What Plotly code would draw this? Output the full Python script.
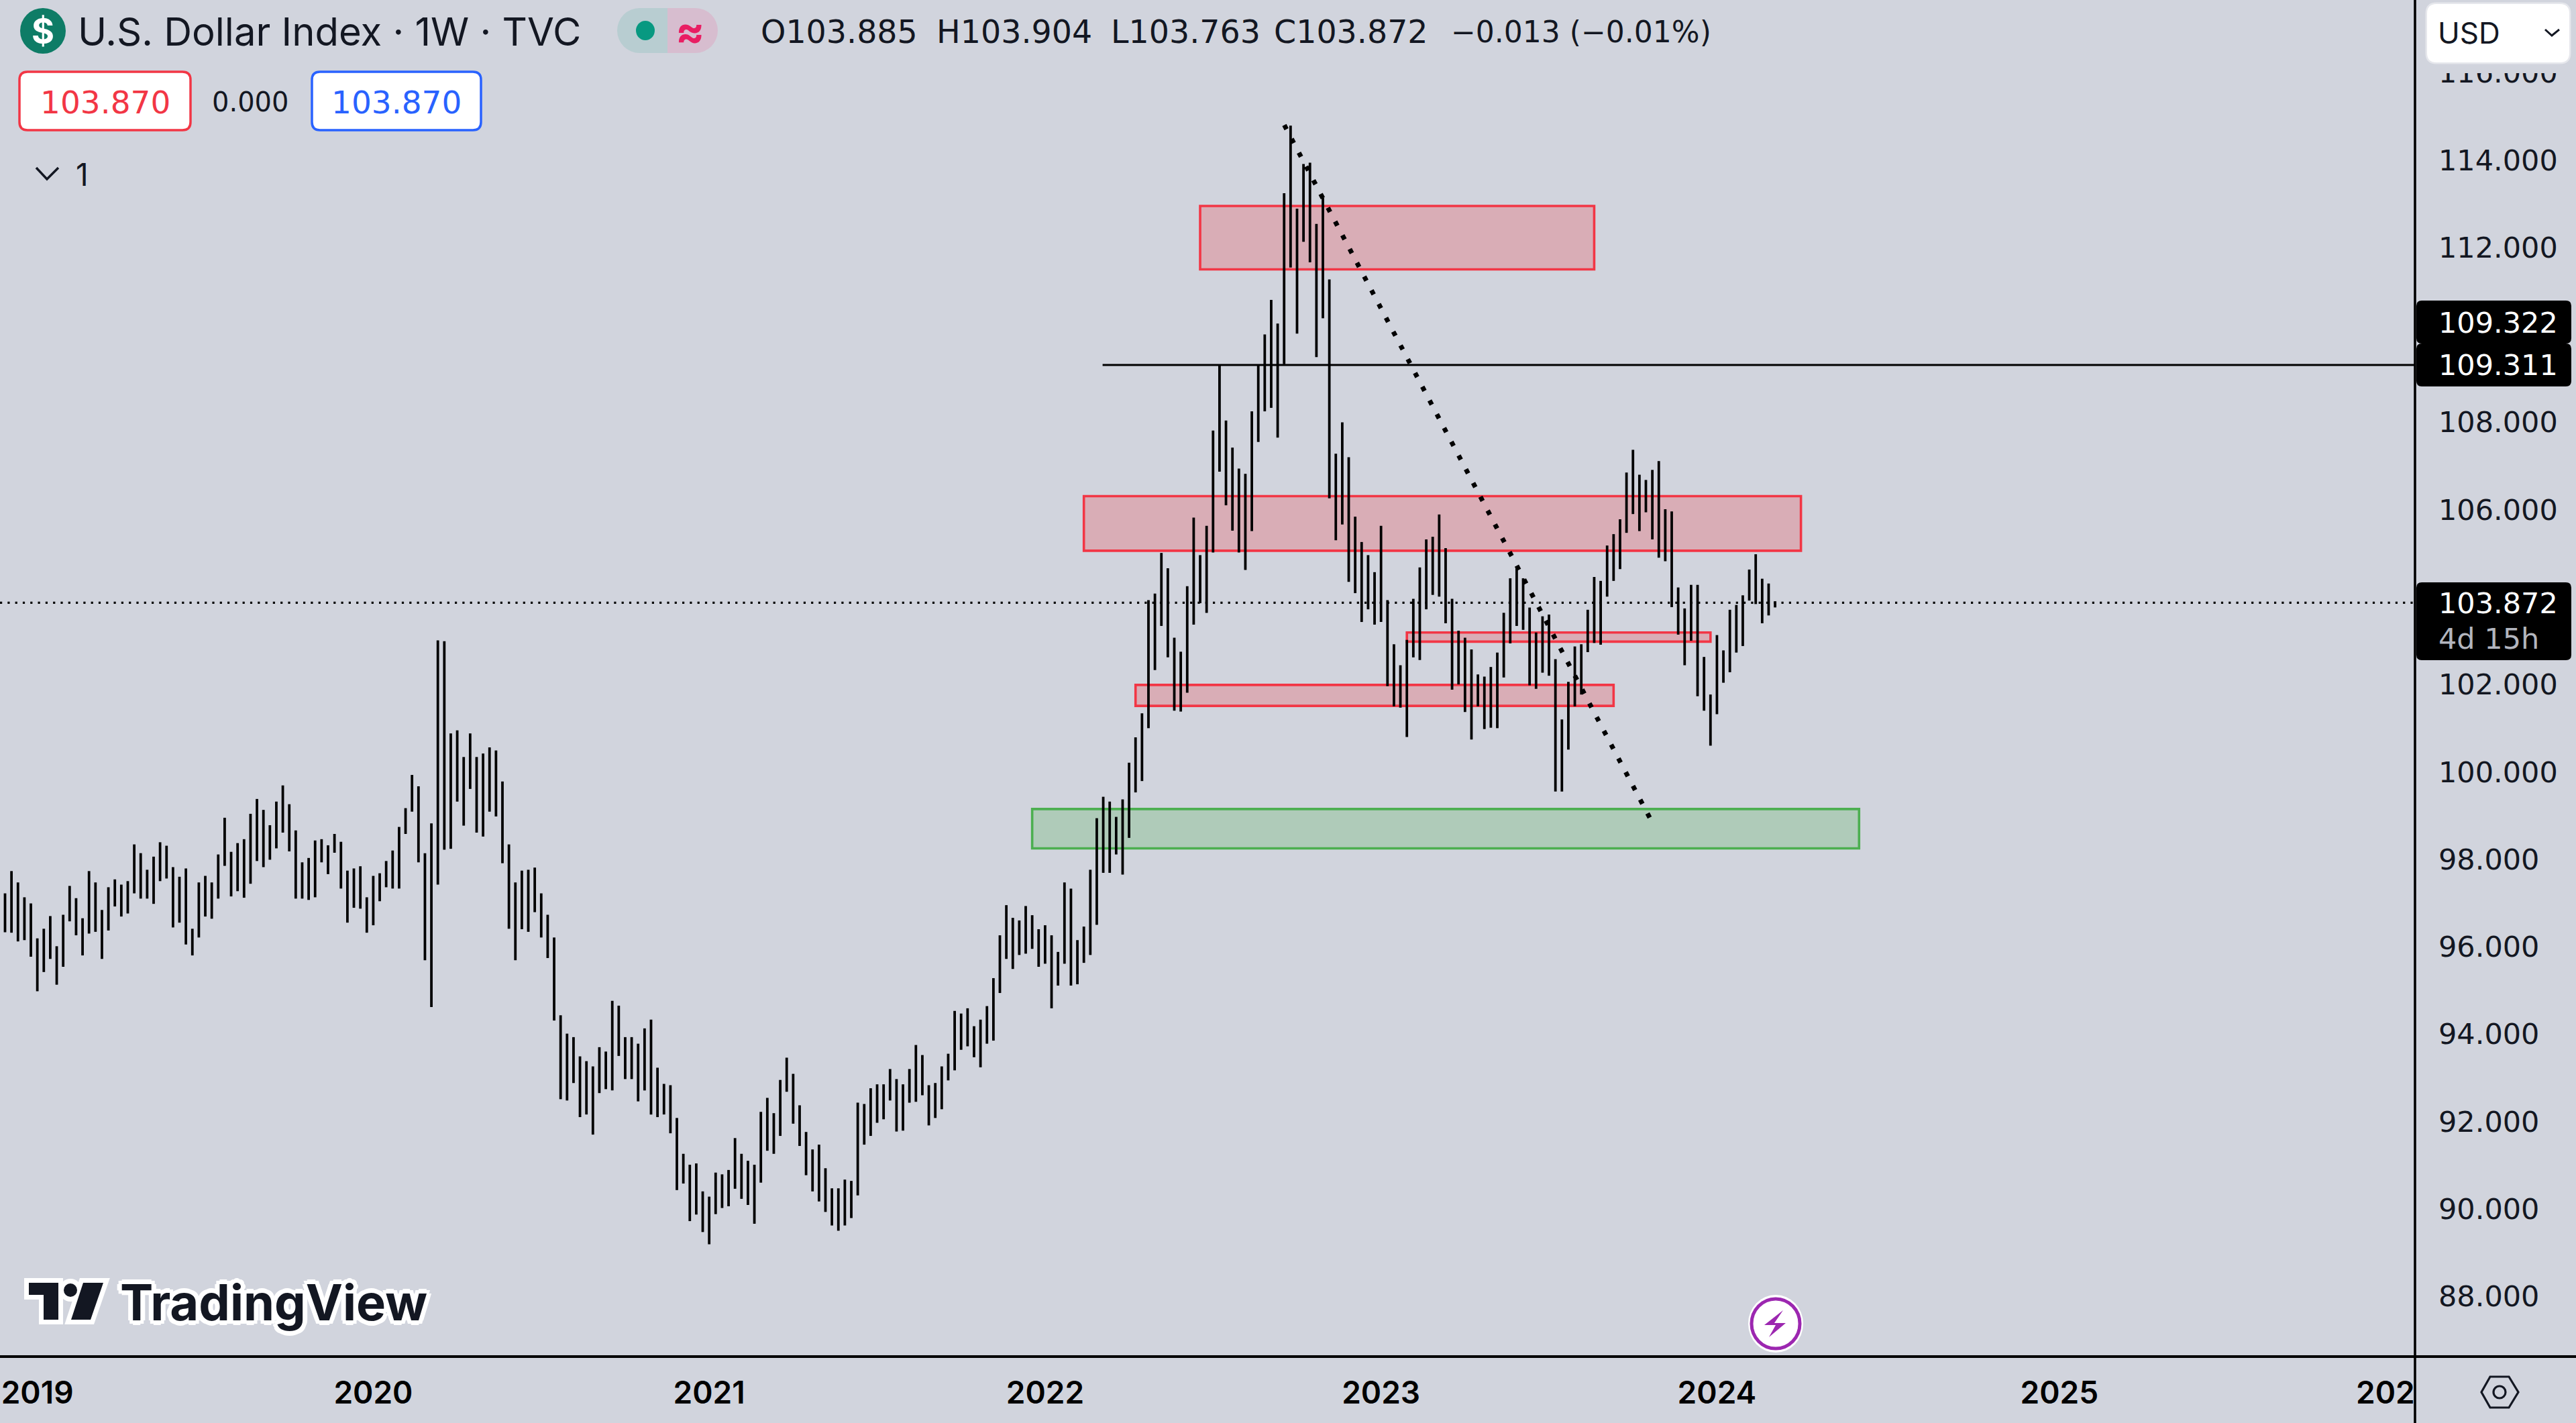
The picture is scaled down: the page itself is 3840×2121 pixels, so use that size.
#!/usr/bin/env python3
"""U.S. Dollar Index weekly bars with drawn supply/demand zones."""

import pandas as pd
import plotly.graph_objects as go

# weekly bars, first one is the week of 2018-12-03
first_bar = pd.Timestamp("2018-12-03")

highs = [
    97.22, 97.73, 97.47, 97.13, 96.99, 96.19, 96.41, 96.70, 96.01, 96.73,
    97.39, 97.11, 96.65, 97.73, 97.47, 96.84, 97.36, 97.54, 97.42, 97.50,
    98.34, 98.14, 97.76, 98.06, 98.39, 98.31, 97.82, 97.60, 97.79, 96.41,
    97.47, 97.62, 97.47, 98.11, 98.95, 98.17, 98.37, 98.46, 99.04, 99.38,
    99.13, 98.78, 99.32, 99.69, 99.26, 98.66, 97.93, 98.03, 98.43, 98.46,
    98.32, 98.58, 98.40, 97.74, 97.79, 97.84, 97.13, 97.62, 97.68, 97.96,
    98.20, 98.74, 99.17, 99.93, 99.67, 98.14, 98.82, 103.01, 102.99, 100.88,
    100.95, 100.34, 100.88, 100.34, 100.42, 100.56, 100.49, 99.78, 98.34, 97.47,
    97.74, 97.76, 97.81, 97.22, 96.73, 96.21, 94.43, 94.01, 93.93, 93.49,
    93.38, 93.26, 93.70, 93.60, 94.76, 94.65, 93.93, 93.93, 93.78, 94.13,
    94.33, 93.23, 92.86, 92.83, 92.08, 91.26, 91.01, 91.04, 90.40, 90.28,
    90.83, 90.79, 90.89, 91.62, 91.26, 91.10, 91.01, 92.22, 92.54, 92.19,
    92.95, 93.46, 93.09, 92.37, 91.76, 91.36, 91.47, 90.93, 90.47, 90.47,
    90.67, 90.64, 92.43, 92.40, 92.76, 92.85, 92.85, 93.20, 92.97, 92.85,
    93.20, 93.75, 93.52, 92.83, 92.88, 93.26, 93.55, 94.53, 94.47, 94.59,
    94.18, 94.33, 94.64, 95.28, 96.26, 96.95, 96.66, 96.60, 96.93, 96.72,
    96.40, 96.49, 96.26, 95.88, 97.47, 97.33, 96.15, 96.46, 97.76, 98.94,
    99.43, 99.32, 98.97, 99.37, 100.21, 100.79, 101.34, 103.93, 104.08, 105.01,
    104.66, 103.07, 102.75, 104.25, 105.82, 104.96, 105.63, 107.81, 109.31, 108.04,
    107.42, 106.94, 106.82, 108.25, 109.31, 110.01, 110.80, 110.26, 113.24, 114.79,
    112.89, 113.91, 113.94, 112.54, 113.14, 111.27, 107.28, 108.00, 107.20, 105.84,
    105.26, 104.96, 104.57, 105.63, 103.93, 102.92, 102.44, 103.02, 103.96, 104.68,
    105.32, 105.38, 105.89, 105.12, 103.96, 103.23, 103.07, 102.80, 102.23, 102.18,
    102.40, 102.73, 103.64, 104.43, 104.70, 104.43, 103.76, 103.19, 103.56, 103.60,
    102.58, 101.20, 102.06, 102.87, 102.92, 103.71, 104.46, 104.37, 105.18, 105.44,
    105.78, 106.85, 107.37, 106.80, 106.68, 106.91, 107.11, 106.01, 105.96, 104.22,
    103.74, 104.28, 104.28, 102.63, 101.77, 103.13, 102.78, 103.71, 103.82, 104.04,
    104.63, 104.98, 104.42, 104.31, 103.904,
]
lows = [
    96.33, 96.32, 96.12, 96.15, 95.77, 94.98, 95.42, 95.72, 95.13, 95.54,
    96.58, 96.26, 95.80, 96.30, 96.34, 95.72, 96.37, 96.92, 96.69, 96.76,
    97.22, 97.10, 97.10, 96.98, 97.50, 97.56, 96.44, 96.55, 96.05, 95.80,
    96.21, 96.69, 96.64, 97.10, 97.85, 97.15, 97.27, 97.12, 97.44, 97.96,
    97.82, 97.99, 98.25, 98.61, 98.18, 97.10, 97.10, 97.07, 97.13, 97.93,
    97.66, 98.15, 97.33, 96.55, 96.89, 96.87, 96.32, 96.49, 97.04, 97.36,
    97.33, 97.33, 98.58, 99.09, 97.93, 95.69, 94.62, 97.42, 98.22, 98.24,
    99.32, 98.77, 99.61, 98.61, 98.52, 99.09, 98.98, 97.91, 96.41, 95.69,
    96.40, 96.34, 96.79, 96.21, 95.74, 94.31, 92.51, 92.48, 92.88, 92.10,
    92.16, 91.70, 92.65, 92.74, 92.71, 93.50, 92.97, 92.97, 92.46, 92.71,
    92.16, 92.10, 92.16, 91.73, 90.43, 90.58, 89.72, 89.87, 89.47, 89.19,
    89.88, 90.02, 90.06, 90.46, 90.23, 90.09, 89.66, 90.60, 91.33, 91.26,
    91.67, 92.68, 91.95, 91.44, 90.77, 90.40, 90.17, 89.93, 89.62, 89.50,
    89.62, 89.79, 90.31, 91.47, 91.67, 91.97, 92.05, 92.48, 91.77, 91.79,
    92.43, 92.45, 92.60, 91.91, 92.08, 92.28, 92.94, 93.17, 93.64, 93.72,
    93.47, 93.24, 93.78, 93.85, 94.94, 95.72, 95.49, 95.81, 95.84, 95.95,
    95.54, 95.61, 94.59, 95.11, 95.61, 95.11, 95.14, 95.63, 95.81, 96.50,
    97.69, 97.69, 98.11, 97.65, 98.49, 99.53, 99.79, 101.00, 102.33, 103.34,
    102.62, 101.40, 101.38, 101.81, 103.37, 103.86, 103.64, 105.02, 106.87, 106.10,
    105.52, 105.02, 104.62, 105.51, 107.55, 108.25, 108.33, 107.65, 109.33, 111.54,
    110.03, 112.13, 111.66, 109.49, 110.38, 106.26, 105.30, 105.66, 104.35, 104.09,
    103.43, 103.72, 103.37, 103.43, 101.96, 101.50, 101.47, 100.80, 102.62, 102.56,
    103.72, 104.05, 104.01, 103.40, 101.88, 102.00, 101.37, 100.74, 101.50, 100.98,
    101.01, 101.00, 102.16, 102.94, 103.34, 103.25, 101.98, 101.90, 102.27, 102.20,
    99.55, 99.55, 100.51, 101.50, 101.77, 102.74, 102.95, 102.91, 104.01, 104.37,
    104.64, 105.47, 105.90, 105.51, 105.94, 105.32, 104.90, 104.82, 103.77, 103.14,
    102.44, 103.00, 101.73, 101.40, 100.60, 101.32, 102.04, 102.28, 102.73, 102.88,
    103.92, 103.84, 103.40, 103.58, 103.763,
]

# price scale labels (110 and 104 sit under the black price tags)
price_ticks = [88, 90, 92, 94, 96, 98, 100, 102, 106, 108, 112, 114, 116]
year_labels = ["2019", "2020", "2021", "2022", "2023", "2024", "2025"]
year_ticks = ["2019-01-07", "2020-01-06", "2021-01-04", "2022-01-03", "2023-01-02", "2024-01-01", "2025-01-06"]

# drawn zones: bar index of both edges and price of both edges
zone_start = [185, 167, 217, 175, 159]
zone_end = [246, 278, 264, 249, 287]
zone_top = [112.95, 106.31, 103.19, 101.99, 99.15]
zone_bottom = [111.50, 105.06, 102.98, 101.51, 98.25]
zone_kind = ["red", "red", "red", "red", "green"]

# other drawings
trend_weeks = [198.03, 254.85]
trend_prices = [114.80, 98.88]
ray_week = 169.9
ray_price = 109.311
last_price = 103.872

ohlc_groups = ["O103.885", "H103.904", "L103.763", "C103.872"]
ohlc_lefts = [1133, 1395, 1655, 1898]

BG = "#d1d4dd"
INK = "#131722"
RED = "#f23645"
GREEN = "#4caf50"
BLUE = "#2962ff"
FONT = "Inter"
NUM_FONT = "DejaVu Sans"

WIDTH, HEIGHT = 3840, 2121
PLOT_W, PLOT_H = 3600, 2022


def week_date(i):
    return first_bar + pd.Timedelta(days=float(i) * 7)


def X(px):
    return px / PLOT_W


def Y(py):
    return 1 - py / PLOT_H


def poly(points):
    return "M" + " L".join(f"{X(a):.6f},{Y(b):.6f}" for a, b in points) + " Z"


def open_path(points):
    return "M" + " L".join(f"{X(a):.6f},{Y(b):.6f}" for a, b in points)


def rounded(x0, y0, x1, y1, r):
    p = lambda a, b: f"{X(a):.6f},{Y(b):.6f}"
    return (
        f"M{p(x0 + r, y0)} L{p(x1 - r, y0)} Q{p(x1, y0)} {p(x1, y0 + r)} "
        f"L{p(x1, y1 - r)} Q{p(x1, y1)} {p(x1 - r, y1)} L{p(x0 + r, y1)} "
        f"Q{p(x0, y1)} {p(x0, y1 - r)} L{p(x0, y0 + r)} Q{p(x0, y0)} {p(x0 + r, y0)} Z"
    )


dates = [week_date(i) for i in range(len(highs))]

fig = go.Figure()

# only the high-low stems show in the picture, so open and close just span them
fig.add_trace(go.Ohlc(
    x=dates,
    open=lows,
    high=highs,
    low=lows,
    close=highs,
    tickwidth=0,
    increasing=dict(line=dict(color="#000000", width=3.8)),
    decreasing=dict(line=dict(color="#000000", width=3.8)),
    showlegend=False,
))

fig.add_trace(go.Scatter(
    x=[week_date(w) for w in trend_weeks],
    y=trend_prices,
    mode="lines",
    line=dict(color="#000000", width=7, dash="7px,16.2px"),
    showlegend=False,
))

shapes = []

for i in range(len(zone_start)):
    color = RED if zone_kind[i] == "red" else GREEN
    fill = "rgba(242,54,69,0.25)" if zone_kind[i] == "red" else "rgba(76,175,80,0.25)"
    shapes.append(dict(
        type="rect", layer="below", xref="x", yref="y",
        x0=week_date(zone_start[i]), x1=week_date(zone_end[i]),
        y0=zone_bottom[i], y1=zone_top[i],
        line=dict(color=color, width=3.6), fillcolor=fill,
    ))

# last price line and horizontal ray
shapes.append(dict(
    type="line", layer="below", xref="paper", yref="y", x0=0, x1=1, y0=last_price, y1=last_price,
    line=dict(color="#000000", width=3.2, dash="3.2px,8.1px"),
))
shapes.append(dict(
    type="line", layer="below", xref="x", yref="y",
    x0=week_date(ray_week), x1=week_date(400), y0=ray_price, y1=ray_price,
    line=dict(color="#000000", width=3),
))


def paper_shape(kind, x0, y0, x1, y1, fill=None, line=None, width=0):
    shapes.append(dict(
        type=kind, layer="above", xref="paper", yref="paper",
        x0=X(x0), x1=X(x1), y0=Y(y0), y1=Y(y1),
        fillcolor=fill or "rgba(0,0,0,0)",
        line=dict(color=line or "rgba(0,0,0,0)", width=width),
    ))


def path_shape(path, fill=None, line=None, width=0):
    shapes.append(dict(
        type="path", layer="above", xref="paper", yref="paper", path=path,
        fillcolor=fill or "rgba(0,0,0,0)",
        line=dict(color=line or "rgba(0,0,0,0)", width=width),
    ))


# frame lines, running on through the price panel
shapes.append(dict(type="line", layer="above", xref="paper", yref="paper",
                   x0=X(0), x1=X(WIDTH), y0=Y(PLOT_H), y1=Y(PLOT_H),
                   line=dict(color="#000000", width=4)))
shapes.append(dict(type="line", layer="above", xref="paper", yref="paper",
                   x0=X(PLOT_W), x1=X(PLOT_W), y0=Y(0), y1=Y(HEIGHT),
                   line=dict(color="#000000", width=3.6)))

# the 116 label is cut off by the currency button
paper_shape("rect", 3603, 0, WIDTH, 109, fill=BG)
path_shape(rounded(3618, 6, 3830, 93, 14), fill="#ffffff", line="rgba(255,255,255,0.45)", width=5)
path_shape(open_path([(3794, 44), (3804, 53), (3815, 44)]), line=INK, width=3)

# black price tags
path_shape(rounded(3602, 448, 3833, 512, 8), fill="#000000")
path_shape(rounded(3602, 512, 3833, 576, 8), fill="#000000")
path_shape(rounded(3602, 868, 3833, 984, 8), fill="#000000")

# symbol badge and market status pill
paper_shape("circle", 30, 12, 98, 80, fill="#0e7c66")
paper_shape("circle", 920, 12, 987, 79, fill="#b8cdd1")
paper_shape("rect", 953, 12, 995, 79, fill="#b8cdd1")
paper_shape("circle", 1003, 12, 1070, 79, fill="#d7bdcf")
paper_shape("rect", 995, 12, 1037, 79, fill="#d7bdcf")
paper_shape("circle", 948, 31, 976, 60, fill="#089981")

# bid / ask boxes
path_shape(rounded(29, 107, 284, 194, 12), fill="#ffffff", line=RED, width=3.5)
path_shape(rounded(465, 107, 717, 194, 12), fill="#ffffff", line=BLUE, width=3.5)
path_shape(open_path([(54, 250), (70, 267), (87, 250)]), line=INK, width=3.5)

# TradingView mark, white halo first
tv_t = [(43, 1912), (87, 1912), (87, 1967), (65, 1967), (65, 1930), (43, 1930)]
tv_slash = [(124, 1912), (154, 1912), (135, 1967), (106, 1967)]
path_shape(poly(tv_t), fill="#ffffff", line="#ffffff", width=14)
path_shape(poly(tv_slash), fill="#ffffff", line="#ffffff", width=14)
paper_shape("circle", 88, 1906, 122, 1940, fill="#ffffff")
path_shape(poly(tv_t), fill=INK)
path_shape(poly(tv_slash), fill=INK)
paper_shape("circle", 95, 1913, 115, 1933, fill=INK)

# lightning badge
paper_shape("circle", 2606, 1930, 2688, 2016, fill="#ffffff")
paper_shape("circle", 2611, 1936, 2683, 2010, fill="#ffffff", line="#9c27b0", width=5)
path_shape(poly([(2658, 1953), (2630, 1975), (2647, 1975), (2637, 1993), (2662, 1972), (2645, 1972)]), fill="#9c27b0")

# scale settings icon
path_shape(poly([(3712, 2052), (3740, 2052), (3754, 2075), (3740, 2098), (3712, 2098), (3699, 2075)]),
           line=INK, width=3.2)
paper_shape("circle", 3717, 2066, 3735, 2084, line=INK, width=3.2)


def label(text, x, y, size, color=INK, anchor="left", weight=400, shadow=None, family=FONT):
    font = dict(family=family, size=size, color=color, weight=weight)
    if shadow:
        font["shadow"] = shadow
    return dict(
        text=text, xref="paper", yref="paper", x=X(x), y=Y(y),
        xanchor=anchor, yanchor="middle", showarrow=False, font=font,
        borderpad=0,
    )


halo = ",".join(f"{a}px {b}px 0 #ffffff" for a, b in
                [(-7, 0), (7, 0), (0, -7), (0, 7), (-5, -5), (5, -5), (-5, 5), (5, 5)])

annotations = [
    label("$", 64, 46, 52, color="#ffffff", anchor="center", weight=700),
    label("U.S. Dollar Index · 1W · TVC", 115, 47, 58),
    label("≈", 1028, 45, 64, color="#e91e63", anchor="center", weight=700),
    label("103.870", 157, 152, 47, color=RED, anchor="center", family=NUM_FONT),
    label("0.000", 373, 152, 40, anchor="center", family=NUM_FONT),
    label("103.870", 591, 152, 47, color=BLUE, anchor="center", family=NUM_FONT),
    label("1", 123, 260, 46, anchor="center"),
    label("USD", 3633, 49, 44),
    label("109.322", 3634, 481, 43, color="#ffffff", family=NUM_FONT),
    label("109.311", 3634, 544, 43, color="#ffffff", family=NUM_FONT),
    label("103.872", 3634, 899, 43, color="#ffffff", family=NUM_FONT),
    label("4d 15h", 3634, 952, 43, color="#b2b5be", family=NUM_FONT),
    label("TradingView", 178, 1941, 74, color=INK, weight=700, shadow=halo),
    label("202", 3511, 2075, 46, color="#000000", weight=600),
    label("−0.013 (−0.01%)", 2162, 47, 44, family=NUM_FONT),
]
for text, left in zip(ohlc_groups, ohlc_lefts):
    annotations.append(label(text, left, 47, 47.5, family=NUM_FONT))

fig.update_layout(
    width=WIDTH,
    height=HEIGHT,
    margin=dict(l=0, r=WIDTH - PLOT_W, t=0, b=HEIGHT - PLOT_H, pad=0),
    paper_bgcolor=BG,
    plot_bgcolor=BG,
    showlegend=False,
    hovermode=False,
    shapes=shapes,
    annotations=annotations,
    xaxis=dict(
        type="date",
        range=["2018-11-27 13:12", "2026-01-26 09:36"],
        rangeslider=dict(visible=False),
        tickmode="array",
        tickvals=year_ticks,
        ticktext=year_labels,
        ticks="",
        ticklabelstandoff=23,
        tickfont=dict(family=FONT, size=46, color="#000000", weight=600),
        showgrid=False,
        zeroline=False,
        showline=False,
    ),
    yaxis=dict(
        side="right",
        range=[86.62, 117.663],
        tickmode="array",
        tickvals=price_ticks,
        ticktext=[f"{p:.3f}" for p in price_ticks],
        ticks="",
        ticklabelstandoff=34,
        tickfont=dict(family=NUM_FONT, size=43, color=INK),
        showgrid=False,
        zeroline=False,
        showline=False,
    ),
)

fig.write_html("out.html", config=dict(displayModeBar=False),
               post_script="document.body.style.margin='0';")
